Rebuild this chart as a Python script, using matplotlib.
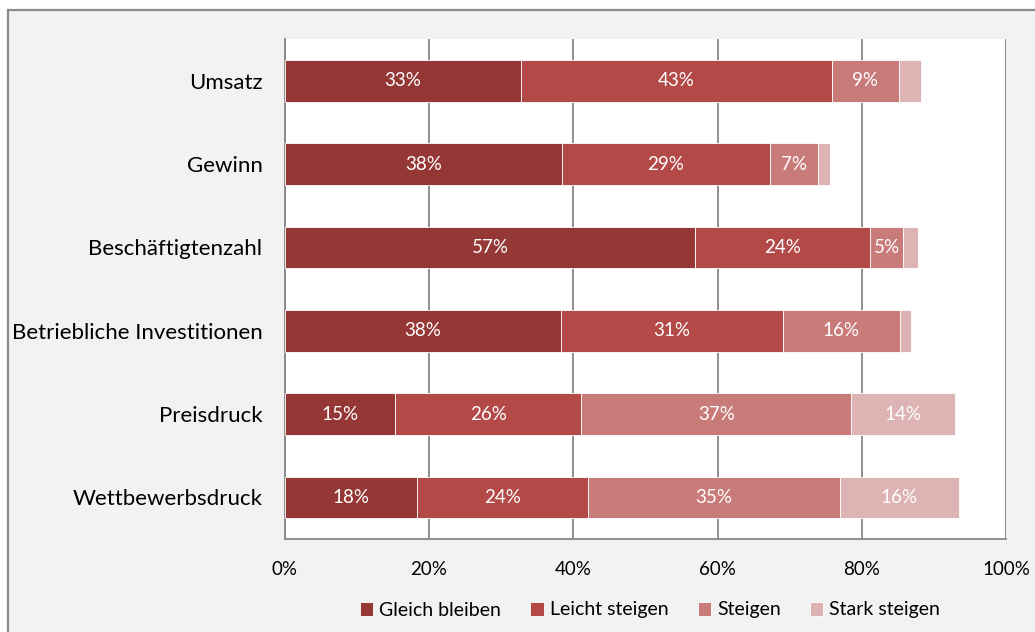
import numpy as np
import matplotlib
matplotlib.use("Agg")
import matplotlib.pyplot as plt
from matplotlib.patches import Rectangle

plt.rcParams['font.family'] = ['Lato', 'DejaVu Sans']

# data (percent of respondents)
categories = ["Umsatz", "Gewinn", "Beschäftigtenzahl", "Betriebliche Investitionen",
              "Preisdruck", "Wettbewerbsdruck"]
series_names = ["Gleich bleiben", "Leicht steigen", "Steigen", "Stark steigen"]
gleich = [32.7, 38.4, 56.9, 38.3, 15.3, 18.3]
leicht = [43.1, 28.8, 24.2, 30.7, 25.8, 23.7]
steigen = [9.3, 6.7, 4.6, 16.3, 37.4, 34.9]
stark = [3.1, 1.6, 2.1, 1.5, 14.4, 16.5]
x_ticks = [0, 20, 40, 60, 80, 100]

colors = ["#953735", "#B34A48", "#C97B7A", "#DDB4B3"]
grid_col = "#878787"
fs = 13.5

fig = plt.figure(figsize=(10.35, 6.32), dpi=100)
fig.patch.set_facecolor("white")
# chart area frame (cropped on the right/bottom like the original)
fig.patches.append(Rectangle((7.5 / 1035, -0.05), 1.1, (632 - 9.5) / 632 + 0.05,
                             transform=fig.transFigure, facecolor="#F2F2F2",
                             edgecolor="#8C8C8C", linewidth=1.6, zorder=-1))

ax = fig.add_axes([284.7 / 1035, 1 - 539 / 632, (1006.3 - 284.7) / 1035, 500 / 632])
ax.set_facecolor("white")
ax.set_zorder(1)

y = np.arange(len(categories))
left = np.zeros(len(categories))
for name, vals, col in zip(series_names, [gleich, leicht, steigen, stark], colors):
    vals = np.array(vals)
    ax.barh(y, vals, left=left, height=0.5, color=col, edgecolor="white",
            linewidth=0.6, label=name, zorder=3)
    for yi, l, v in zip(y, left, vals):
        if v >= 4:
            ax.text(l + v / 2, yi, f"{round(v)}%", ha="center", va="center",
                    color="white", fontsize=fs, zorder=4)
    left = left + vals

ax.set_xlim(0, 100)
ax.set_ylim(len(categories) - 0.5, -0.5)
ax.set_yticks(y)
ax.set_yticklabels(categories, fontsize=16)
ax.set_xticks(x_ticks)
ax.set_xticklabels([f"{t}%" for t in x_ticks], fontsize=fs)
ax.tick_params(axis="both", length=0)
ax.tick_params(axis="y", pad=16)
ax.tick_params(axis="x", pad=15.5)
ax.grid(axis="x", color=grid_col, linewidth=1.3, zorder=1)
for s in ["top", "right"]:
    ax.spines[s].set_visible(False)
for s in ["left", "bottom"]:
    ax.spines[s].set_color(grid_col)
    ax.spines[s].set_linewidth(1.3)

fig.legend(loc="center", bbox_to_anchor=(650 / 1035, 1 - 610 / 632), ncol=4,
           frameon=False, fontsize=14, handlelength=0.7, handleheight=0.7,
           handletextpad=0.3, columnspacing=1.5)

fig.savefig("out.png", dpi=100, facecolor=fig.get_facecolor())
